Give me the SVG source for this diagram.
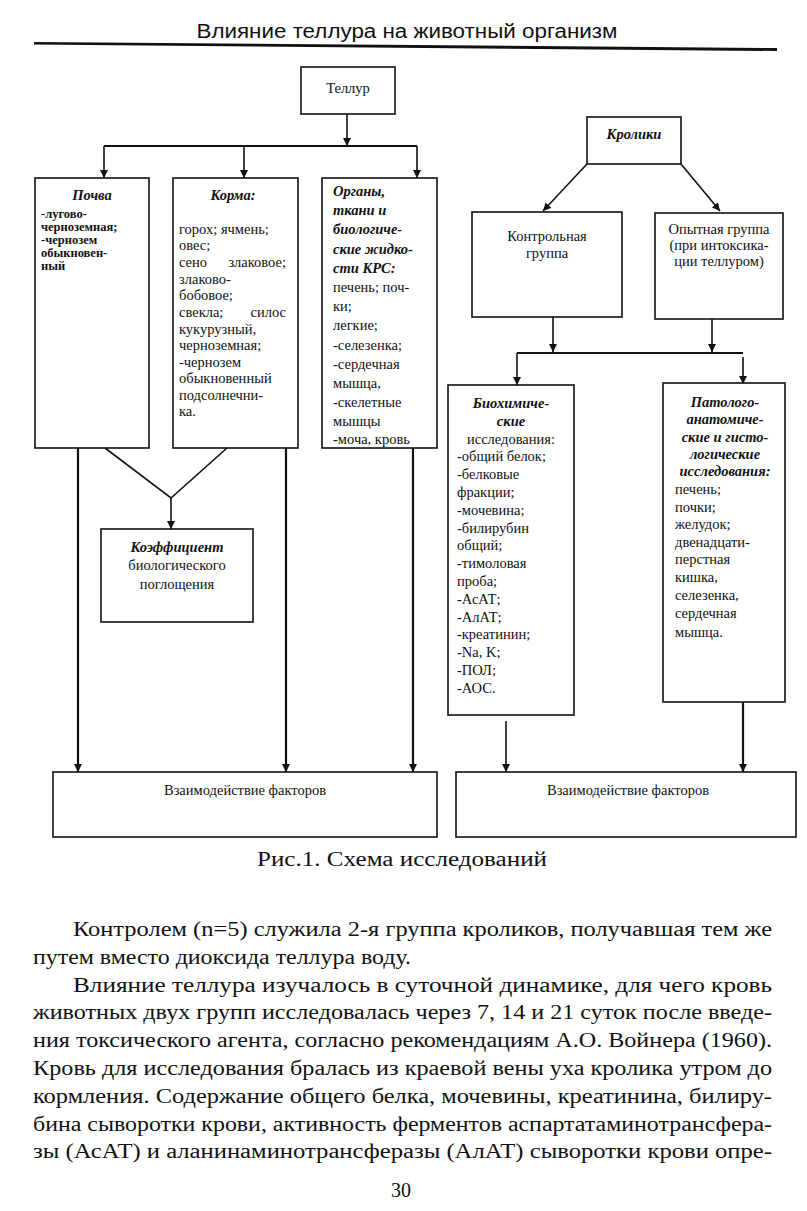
<svg xmlns="http://www.w3.org/2000/svg" width="807" height="1211" viewBox="0 0 807 1211">
<style>
text{font-family:"Liberation Serif","Times New Roman",serif;fill:#111}
.box{fill:#fff;stroke:#111;stroke-width:1.6}
.t{font-size:14.5px}
.s{font-size:12.5px;font-weight:bold}
.bi{font-size:14.5px;font-weight:bold;font-style:italic}
.c{text-anchor:middle}
.ln{stroke:#111;stroke-width:1.6;fill:none}
.th{stroke:#111;stroke-width:2.2;fill:none}
.p{font-size:20px}
</style>
<defs>
<marker id="ah" viewBox="0 0 8 8" refX="8" refY="4" markerWidth="8" markerHeight="8" markerUnits="userSpaceOnUse" orient="auto">
<path d="M0,0 L8,4 L0,8 z" fill="#111"/>
</marker>
</defs>
<rect width="807" height="1211" fill="#fff"/>

<g id="header">
<text x="407" y="38" text-anchor="middle" style="font-family:'Liberation Sans',Arial,sans-serif;font-size:20px" textLength="421" lengthAdjust="spacingAndGlyphs">Влияние теллура на животный организм</text>
<path d="M34,42 L777,48 L777,51 L34,44.5 z" fill="#111"/>
</g>

<g id="connectors">
<line class="ln" x1="347" y1="114" x2="347" y2="146" marker-end="url(#ah)"/>
<line class="th" x1="104" y1="146" x2="417" y2="146"/>
<line class="ln" x1="104" y1="146" x2="104" y2="178" marker-end="url(#ah)"/>
<line class="ln" x1="244" y1="146" x2="244" y2="178" marker-end="url(#ah)"/>
<line class="ln" x1="417" y1="146" x2="417" y2="178" marker-end="url(#ah)"/>
<line class="th" x1="78" y1="448" x2="78" y2="772" marker-end="url(#ah)"/>
<line class="th" x1="286" y1="448" x2="286" y2="772" marker-end="url(#ah)"/>
<line class="th" x1="413" y1="448" x2="413" y2="772" marker-end="url(#ah)"/>
<polyline class="ln" points="105,448 171,498 227,448"/>
<line class="ln" x1="171" y1="498" x2="171" y2="529" marker-end="url(#ah)"/>
<line class="ln" x1="587" y1="164" x2="543" y2="211" marker-end="url(#ah)"/>
<line class="ln" x1="681" y1="164" x2="720" y2="211" marker-end="url(#ah)"/>
<line class="ln" x1="553" y1="317" x2="553" y2="352" marker-end="url(#ah)"/>
<line class="ln" x1="712" y1="319" x2="712" y2="352" marker-end="url(#ah)"/>
<line class="th" x1="517" y1="353" x2="743" y2="353"/>
<line class="ln" x1="517" y1="353" x2="517" y2="385" marker-end="url(#ah)"/>
<line class="ln" x1="743" y1="357" x2="743" y2="384" marker-end="url(#ah)"/>
<line class="ln" x1="506" y1="721" x2="506" y2="772" marker-end="url(#ah)"/>
<line class="th" x1="743" y1="702" x2="743" y2="772" marker-end="url(#ah)"/>
</g>

<g id="tellur">
<rect class="box" x="301" y="67" width="94" height="47"/>
<text class="t c" x="348" y="93">Теллур</text>
</g>

<g id="pochva">
<rect class="box" x="35" y="178" width="114" height="270"/>
<text class="bi c" x="92" y="200">Почва</text>
<text class="s" x="41" y="218">-лугово-</text>
<text class="s" x="41" y="231">черноземная;</text>
<text class="s" x="41" y="244">-чернозем</text>
<text class="s" x="41" y="257">обыкновен-</text>
<text class="s" x="41" y="270">ный</text>
</g>

<g id="korma">
<rect class="box" x="173" y="178" width="125" height="270"/>
<text class="bi c" x="233" y="200">Корма:</text>
<text class="t" x="179" y="234">горох; ячмень;</text>
<text class="t" x="179" y="250">овес;</text>
<text class="t" x="179" y="267">сено</text>
<text class="t" x="286" y="267" text-anchor="end">злаковое;</text>
<text class="t" x="179" y="284">злаково-</text>
<text class="t" x="179" y="300">бобовое;</text>
<text class="t" x="179" y="317">свекла;</text>
<text class="t" x="286" y="317" text-anchor="end">силос</text>
<text class="t" x="179" y="334">кукурузный,</text>
<text class="t" x="179" y="350">черноземная;</text>
<text class="t" x="179" y="367">-чернозем</text>
<text class="t" x="179" y="383">обыкновенный</text>
<text class="t" x="179" y="400">подсолнечни-</text>
<text class="t" x="179" y="416">ка.</text>
</g>

<g id="organy">
<rect class="box" x="322" y="178" width="115" height="270"/>
<text class="bi" x="333" y="196">Органы,</text>
<text class="bi" x="333" y="215">ткани и</text>
<text class="bi" x="333" y="234">биологиче-</text>
<text class="bi" x="333" y="254">ские жидко-</text>
<text class="bi" x="333" y="273">сти КРС:</text>
<text class="t" x="333" y="292">печень; поч-</text>
<text class="t" x="333" y="311">ки;</text>
<text class="t" x="333" y="330">легкие;</text>
<text class="t" x="333" y="350">-селезенка;</text>
<text class="t" x="333" y="369">-сердечная</text>
<text class="t" x="333" y="388">мышца,</text>
<text class="t" x="333" y="407">-скелетные</text>
<text class="t" x="333" y="426">мышцы</text>
<text class="t" x="333" y="444">-моча, кровь</text>
</g>

<g id="koef">
<rect class="box" x="101" y="529" width="152" height="93"/>
<text class="bi c" x="177" y="552">Коэффициент</text>
<text class="t c" x="177" y="570">биологического</text>
<text class="t c" x="177" y="589">поглощения</text>
</g>

<g id="kroliki">
<rect class="box" x="587" y="117" width="94" height="47"/>
<text class="bi c" x="634" y="139">Кролики</text>
</g>

<g id="control">
<rect class="box" x="472" y="212" width="150" height="105"/>
<text class="t c" x="547" y="241">Контрольная</text>
<text class="t c" x="547" y="258">группа</text>
</g>

<g id="opyt">
<rect class="box" x="655" y="213" width="128" height="106"/>
<text class="t c" x="719" y="234">Опытная группа</text>
<text class="t c" x="719" y="250">(при интоксика-</text>
<text class="t c" x="719" y="266">ции теллуром)</text>
</g>

<g id="biochem">
<rect class="box" x="448" y="385" width="126" height="330"/>
<text class="bi c" x="511" y="408">Биохимиче-</text>
<text class="bi c" x="511" y="426">ские</text>
<text class="t c" x="511" y="444">исследования:</text>
<text class="t" x="457" y="461">-общий белок;</text>
<text class="t" x="457" y="479">-белковые</text>
<text class="t" x="457" y="497">фракции;</text>
<text class="t" x="457" y="515">-мочевина;</text>
<text class="t" x="457" y="533">-билирубин</text>
<text class="t" x="457" y="550">общий;</text>
<text class="t" x="457" y="568">-тимоловая</text>
<text class="t" x="457" y="586">проба;</text>
<text class="t" x="457" y="604">-АсАТ;</text>
<text class="t" x="457" y="622">-АлАТ;</text>
<text class="t" x="457" y="639">-креатинин;</text>
<text class="t" x="457" y="657">-Na, K;</text>
<text class="t" x="457" y="675">-ПОЛ;</text>
<text class="t" x="457" y="693">-АОС.</text>
</g>

<g id="patolog">
<rect class="box" x="663" y="383" width="122" height="319"/>
<text class="bi c" x="725" y="407">Патолого-</text>
<text class="bi c" x="725" y="424">анатомиче-</text>
<text class="bi c" x="725" y="442">ские и гисто-</text>
<text class="bi c" x="725" y="459">логические</text>
<text class="bi c" x="725" y="476">исследования:</text>
<text class="t" x="675" y="494">печень;</text>
<text class="t" x="675" y="512">почки;</text>
<text class="t" x="675" y="529">желудок;</text>
<text class="t" x="675" y="547">двенадцати-</text>
<text class="t" x="675" y="564">перстная</text>
<text class="t" x="675" y="582">кишка,</text>
<text class="t" x="675" y="600">селезенка,</text>
<text class="t" x="675" y="618">сердечная</text>
<text class="t" x="675" y="637">мышца.</text>
</g>

<g id="vzaim1">
<rect class="box" x="53" y="772" width="384" height="65"/>
<text class="t c" x="245" y="795">Взаимодействие факторов</text>
</g>

<g id="vzaim2">
<rect class="box" x="456" y="772" width="340" height="65"/>
<text class="t c" x="628" y="795">Взаимодействие факторов</text>
</g>

<g id="caption">
<text x="402" y="866" text-anchor="middle" style="font-size:20px" textLength="290" lengthAdjust="spacingAndGlyphs">Рис.1. Схема исследований</text>
</g>

<g id="paragraph">
<text class="p" x="73" y="936" textLength="699" lengthAdjust="spacingAndGlyphs">Контролем (n=5) служила 2-я группа кроликов, получавшая тем же</text>
<text class="p" x="33" y="964" textLength="378" lengthAdjust="spacingAndGlyphs">путем вместо диоксида теллура воду.</text>
<text class="p" x="73" y="992" textLength="699" lengthAdjust="spacingAndGlyphs">Влияние теллура изучалось в суточной динамике, для чего  кровь</text>
<text class="p" x="33" y="1019" textLength="739" lengthAdjust="spacingAndGlyphs">животных двух групп исследовалась через 7, 14 и 21 суток после введе-</text>
<text class="p" x="33" y="1047" textLength="739" lengthAdjust="spacingAndGlyphs">ния токсического агента, согласно рекомендациям А.О. Войнера (1960).</text>
<text class="p" x="33" y="1075" textLength="739" lengthAdjust="spacingAndGlyphs">Кровь для исследования бралась из краевой  вены уха кролика утром до</text>
<text class="p" x="33" y="1103" textLength="739" lengthAdjust="spacingAndGlyphs">кормления. Содержание общего белка, мочевины, креатинина, билиру-</text>
<text class="p" x="33" y="1131" textLength="739" lengthAdjust="spacingAndGlyphs">бина сыворотки крови, активность ферментов аспартатаминотрансфера-</text>
<text class="p" x="33" y="1158" textLength="739" lengthAdjust="spacingAndGlyphs">зы (АсАТ) и аланинаминотрансферазы (АлАТ) сыворотки крови опре-</text>
<text class="p c" x="401" y="1197">30</text>
</g>
</svg>
